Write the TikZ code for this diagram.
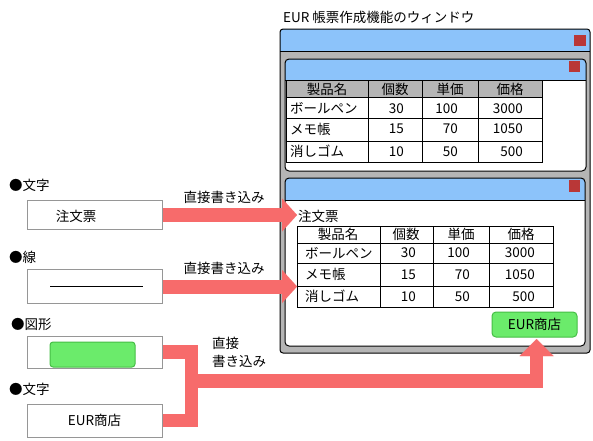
\documentclass[tikz,border=0pt]{standalone}
\usepackage{fontspec}
\newfontfamily\jp{Noto Sans CJK JP}
\usetikzlibrary{arrows.meta}
\definecolor{arrowred}{RGB}{247,107,107}
\definecolor{barblue}{RGB}{140,195,250}
\definecolor{wingray}{RGB}{181,181,181}
\definecolor{closered}{RGB}{185,55,55}
\definecolor{btngreen}{RGB}{107,235,107}
\definecolor{btnborder}{RGB}{70,190,70}
\definecolor{boxgray}{RGB}{150,150,150}
\begin{document}
\begin{tikzpicture}[x=1pt,y=-1pt,
  txt/.style={font=\jp\fontsize{13.5}{15}\selectfont, inner sep=0pt},
  srcbox/.style={draw=boxgray, fill=white, line width=1pt, minimum width=135pt, inner sep=0pt, font=\jp\fontsize{13.5}{15}\selectfont},
  bigarrow/.style={draw=arrowred, line width=14pt, line join=miter,
     -{Triangle[length=15pt,width=33pt,line width=0.01pt]}},
  busline/.style={draw=arrowred, line width=13.5pt, line join=miter},
  closebtn/.style={fill=closered},
  tline/.style={black, line width=1pt},
  btn/.style={draw=btnborder, fill=btngreen, rounded corners=4pt, minimum width=85pt, minimum height=25pt, inner sep=0pt, line width=1pt, font=\jp\fontsize{13.5}{15}\selectfont}
]
\useasboundingbox (0,0) rectangle (593,440);

% ---------- window ----------
\node[txt, anchor=west] (title) at (283,17) {EUR 帳票作成機能のウィンドウ};
\fill[wingray, rounded corners=3pt] (280,29) rectangle (590,353);
\begin{scope}
  \clip[rounded corners=3pt] (280,29) rectangle (590,353);
  \fill[barblue] (280,29) rectangle (590,51);
\end{scope}
\draw[tline] (280,51) -- (590,51);
\draw[tline, rounded corners=3pt] (280,29) rectangle (590,353);
\fill[closebtn] (574,35) rectangle (586,46);

% panel 1
\fill[white, rounded corners=4pt] (285,59) rectangle (586,171);
\begin{scope}
  \clip[rounded corners=4pt] (285,59) rectangle (586,171);
  \fill[barblue] (285,59) rectangle (586,80);
\end{scope}
\fill[closebtn] (569,61) rectangle (580,72);

% table 1
\fill[wingray] (286,80) rectangle (542,97);
\draw[tline] (286,80) rectangle (542,162);
\draw[tline] (286,97) -- (542,97) (286,118) -- (542,118) (286,141) -- (542,141);
\draw[tline] (368,80) -- (368,162) (422,80) -- (422,162) (478,80) -- (478,162);
\draw[tline] (285,80) -- (586,80);
\draw[tline, rounded corners=4pt] (285,59) rectangle (586,171);

\node[txt] (a00) at (327,89) {製品名};
\node[txt] (a01) at (395,89) {個数};
\node[txt] (a02) at (450,89) {単価};
\node[txt] (a03) at (510,89) {価格};
\foreach \y/\n/\p/\q/\r [count=\i] in {108.5/ボールペン/30/100/3000, 129/メモ帳/15/70/1050, 151.5/消しゴム/10/50/500}{
  \node[txt, anchor=west] (a\i0) at (290,\y) {\n};
  \node[txt, anchor=east] (a\i1) at (404,\y) {\p};
  \node[txt, anchor=east] (a\i2) at (458,\y) {\q};
  \node[txt, anchor=east] (a\i3) at (523,\y) {\r};
}

% panel 2
\fill[white, rounded corners=4pt] (285,178) rectangle (585,346);
\begin{scope}
  \clip[rounded corners=4pt] (285,178) rectangle (585,346);
  \fill[barblue] (285,178) rectangle (585,200);
\end{scope}
\draw[tline] (285,200) -- (585,200);
\draw[tline, rounded corners=4pt] (285,178) rectangle (585,346);
\fill[closebtn] (569,180) rectangle (580,192);

\node[txt, anchor=west] (order) at (298,216) {注文票};
\draw[tline] (297,226) rectangle (553,307);
\draw[tline] (297,243) -- (553,243) (297,263) -- (553,263) (297,286) -- (553,286);
\draw[tline] (380,226) -- (380,307) (433,226) -- (433,307) (489,226) -- (489,307);
\node[txt] (b00) at (338,234.5) {製品名};
\node[txt] (b01) at (406,234.5) {個数};
\node[txt] (b02) at (461,234.5) {単価};
\node[txt] (b03) at (521,234.5) {価格};
\foreach \y/\n/\p/\q/\r [count=\i] in {253/ボールペン/30/100/3000, 274.5/メモ帳/15/70/1050, 296.5/消しゴム/10/50/500}{
  \node[txt, anchor=west] (b\i0) at (305,\y) {\n};
  \node[txt, anchor=east] (b\i1) at (416,\y) {\p};
  \node[txt, anchor=east] (b\i2) at (470,\y) {\q};
  \node[txt, anchor=east] (b\i3) at (535,\y) {\r};
}
\node[btn] (shopbtn) at (534.5,324.5) {EUR商店};

% ---------- left side ----------
\node[txt, anchor=west] (l1) at (9,185) {●文字};
\node[txt, anchor=west] (l2) at (9,257) {●線};
\node[txt, anchor=west] (l3) at (11,324) {●図形};
\node[txt, anchor=west] (l4) at (9,389) {●文字};

\node[srcbox, minimum height=29pt] (box1) at (94.5,215) {};
\node[txt] (box1txt) at (76,216) {注文票};
\node[srcbox, minimum height=34pt] (box2) at (94.5,286.5) {};
\draw[tline] (50,286) -- (143,286);
\node[srcbox, minimum height=32pt] (box3) at (94.5,352) {};
\fill[btngreen, draw=btnborder, line width=1pt, rounded corners=3pt] (50,342) rectangle (135,367);
\node[srcbox, minimum height=33pt] (box4) at (94.5,420.5) {EUR商店};

% ---------- arrows ----------
\coordinate (tip1) at (297,215);
\coordinate (tip2) at (297,286.5);
\draw[bigarrow] (box1.east) -- (tip1);
\draw[bigarrow] (box2.east) -- (tip2);
\node[txt] (lab1) at (224,197) {直接書き込み};
\node[txt] (lab2) at (224,268) {直接書き込み};

\coordinate (busA) at (191.5,352);
\coordinate (busB) at (191.5,420.5);
\coordinate (busM) at (191.5,381);
\coordinate (busC) at (536.5,381);
\coordinate (tip3) at (536.5,339);
\draw[busline] (box3.east) -- (busA) -- (busB) -- (box4.east);
\draw[busline, -{Triangle[length=17pt,width=34pt,line width=0.01pt]}] (busM) -- (busC) -- (tip3);
\node[txt, anchor=west] (lab3a) at (212,343) {直接};
\node[txt, anchor=west] (lab3b) at (212,361) {書き込み};
\end{tikzpicture}
\end{document}
